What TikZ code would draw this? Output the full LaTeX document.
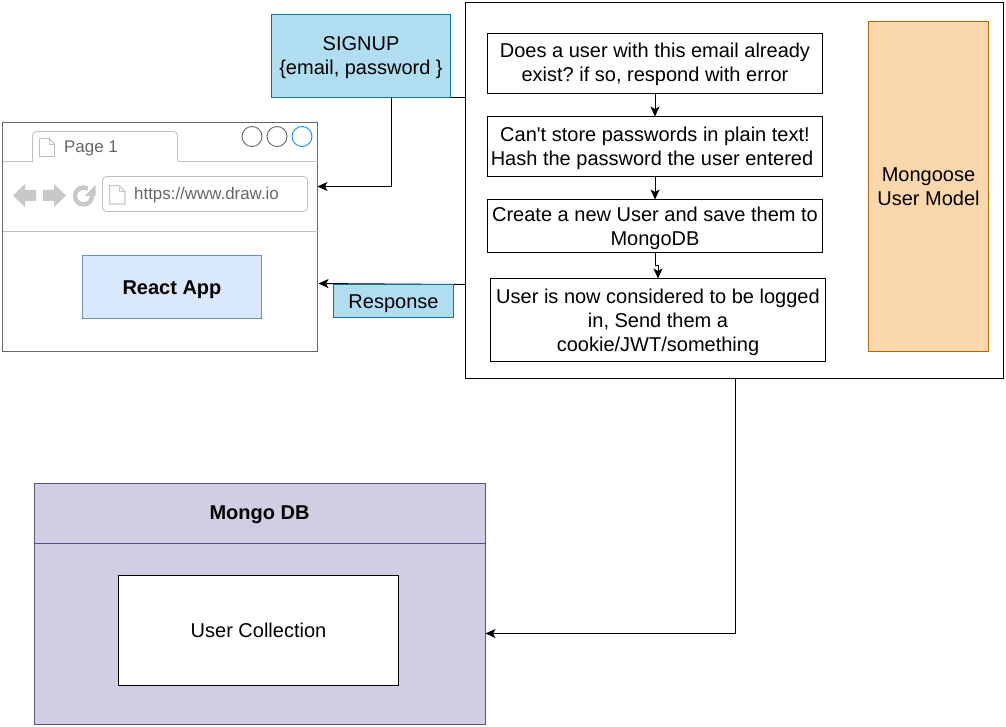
\documentclass[tikz,border=0pt]{standalone}
\usepackage{fontspec}
\setmainfont{Liberation Sans}
\newfontfamily\plainf{Liberation Sans}
\frenchspacing
\usetikzlibrary{arrows.meta}
\definecolor{sky}{HTML}{B1DDF0}
\definecolor{skyline}{HTML}{10739E}
\definecolor{reactfill}{HTML}{DAE8FC}
\definecolor{reactline}{HTML}{6C8EBF}
\definecolor{orangefill}{HTML}{FAD7AC}
\definecolor{orangeline}{HTML}{B46504}
\definecolor{mongofill}{HTML}{D0CEE2}
\definecolor{mongoline}{HTML}{56517E}
\definecolor{chrome}{HTML}{666666}
\definecolor{chromelight}{HTML}{C0C0C0}
\definecolor{iconfill}{HTML}{C8C8C8}
\definecolor{activeblue}{HTML}{0F8CFF}
\tikzset{
  x=1pt,y=-1pt,
  txt/.style={font=\fontsize{20}{24}\selectfont\frenchspacing,align=center,text=black,inner sep=0pt,yshift=-1pt},
  conn/.style={draw=black,line width=0.9pt,-{Stealth[length=10pt,width=9pt,inset=2.5pt]}},
  circ/.style={draw=chrome,line width=0.9pt,fill=white},
  uitext/.style={font=\fontsize{16.9}{20}\selectfont,text=chrome,anchor=west,inner sep=0pt},
}
\newcommand{\bx}[6]{% name, x0,y0,x1,y1, options
  \node[draw,anchor=north west,inner sep=0pt,outer sep=0pt,minimum width=#4-#2,minimum height=#5-#3,#6] (#1) at (#2,#3) {};}
\begin{document}
\begin{tikzpicture}
\useasboundingbox (0,0) rectangle (1006,727);
% browser
\bx{browser}{2.5}{122}{317.5}{351.5}{draw=chrome,line width=0.9pt,fill=white}
\draw[chromelight,line width=0.8pt] (2.5,161.5) -- (32.5,161.5);
\draw[chromelight,line width=0.8pt,rounded corners=4pt] (32.5,161.5) -- (32.5,131.5) -- (177.5,131.5) -- (177.5,161.5);
\draw[chromelight,line width=0.8pt] (177.5,161.5) -- (317.5,161.5);
\draw[chromelight,line width=0.8pt] (2.5,231.5) -- (317.5,231.5);
\draw[chromelight,line width=0.8pt,fill=white] (39.5,138.5) -- (49,138.5) -- (54.5,144) -- (54.5,156.5) -- (39.5,156.5) -- cycle;
\draw[chromelight,line width=0.8pt] (49,138.5) -- (49,144) -- (54.5,144);
\node[uitext] (tabl) at (64,148) {Page 1};
\draw[circ] (252,136.5) circle[radius=10];
\draw[circ] (277,136.5) circle[radius=10];
\draw[circ,draw=activeblue] (302,136.5) circle[radius=10];
\fill[iconfill] (13,195.5) -- (25,184) -- (25,190) -- (36,190) -- (36,201) -- (25,201) -- (25,207) -- cycle;
\fill[iconfill] (66,195.5) -- (54,184) -- (54,190) -- (43,190) -- (43,201) -- (54,201) -- (54,207) -- cycle;
\draw[iconfill,line width=4.4pt] (92,196) arc[start angle=0,end angle=300,radius=8.5];
\fill[iconfill] (95.5,185) -- (95.5,196) -- (84.5,196) -- cycle;
\draw[chromelight,line width=0.8pt,fill=white,rounded corners=4pt] (102.5,176.5) rectangle (307.5,211.5);
\draw[iconfill,line width=1.2pt,fill=white] (109.5,185.5) -- (119,185.5) -- (125,191.5) -- (125,204) -- (109.5,204) -- cycle;
\draw[iconfill,line width=0.8pt] (119,185.5) -- (119,191.5) -- (125,191.5);
\node[uitext] (url) at (134,195.5) {https://www.draw.io};
\bx{react}{82.5}{255.5}{261.5}{318.5}{draw=reactline,fill=reactfill,line width=0.8pt}
\node[txt,font=\fontsize{20}{24}\selectfont\bfseries,yshift=-2pt] at (react.center) {React App};
% server
\bx{server}{465.5}{2.5}{1003.5}{378.5}{draw=black,fill=white,line width=0.9pt}
\bx{s1}{487.5}{33.5}{822.5}{93.5}{draw=black,line width=0.9pt}
\node[txt] at (s1.center) {Does a user with this email already\\exist? if so, respond with error};
\bx{s2}{487.5}{116.5}{822.5}{176.5}{draw=black,line width=0.9pt}
\node[txt,yshift=-1pt] at (s2.center) {\plainf Can't store passwords in plain text!\\\plainf Hash the password the user entered\hspace*{6pt}};
\bx{s3}{487.5}{199.5}{822.5}{252.5}{draw=black,line width=0.9pt}
\node[txt,yshift=-1pt] at (s3.center) {Create a new User and save them to\\MongoDB};
\bx{s4}{490.5}{278.5}{825.5}{361.5}{draw=black,line width=0.9pt}
\node[txt,yshift=-1pt] at (s4.center) {User is now considered to be logged\\in, Send them a\\cookie/JWT/something};
\bx{model}{868.5}{21.5}{988.5}{351.5}{draw=orangeline,fill=orangefill,line width=0.8pt}
\node[txt,yshift=1pt] at (model.center) {Mongoose\\User Model};
\draw[conn] (s1.south) -- (s2.north);
\draw[conn] (s2.south) -- (s3.north);
\draw[conn] (655.5,252.5) -- (655.5,265) -- (658,265) -- (658,278.5);
% connectors to browser
\coordinate (signupjoin) at (465.5,97.5);
\draw[conn] (signupjoin) -- (391.5,97.5) -- (391.5,186.5) -- (317.5,186.5);
\draw[conn] (465.5,284.5) -- (318.5,283.5);
% signup
\bx{signup}{271.5}{14.5}{450.5}{97.5}{draw=skyline,fill=sky,line width=0.9pt}
\node[txt,yshift=-1pt] at (signup.center) {SIGNUP\\\{email, password \}};
\bx{resp}{333.5}{284.5}{453.5}{317.5}{draw=skyline,fill=sky,line width=0.8pt}
\node[txt,yshift=-2pt] at (resp.center) {Response};
% mongo
\bx{mongo}{34.5}{483.5}{485.5}{724.5}{draw=mongoline,fill=mongofill,line width=0.8pt}
\draw[mongoline,line width=0.8pt] (34.5,543.5) -- (485.5,543.5);
\node[txt,font=\fontsize{20}{24}\selectfont\bfseries] at (259.5,513.5) {Mongo DB};
\bx{coll}{118.5}{575.5}{398.5}{685.5}{draw=black,fill=white,line width=0.9pt}
\node[txt,yshift=1pt] at (coll.center) {User Collection};
\coordinate (mongoin) at (485.5,633.5);
\draw[conn] (735,378.5) -- (735,633.5) -- (mongoin);
\end{tikzpicture}
\end{document}
